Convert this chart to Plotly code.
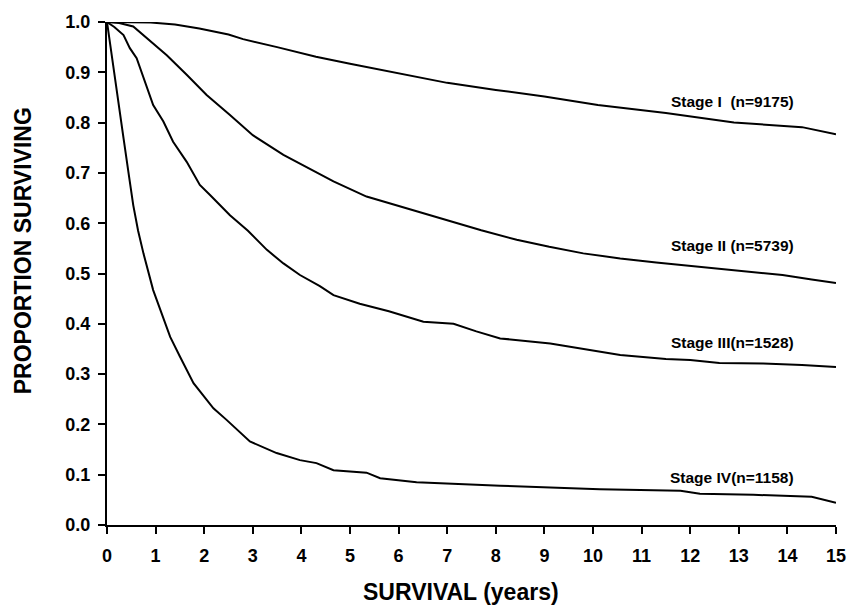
import plotly.graph_objects as go

# Stage I
s1_x = [0, 0.5, 0.9, 1.4, 1.9, 2.5, 2.8, 3.5, 4.3, 5, 6, 7, 8, 9, 10.1, 11.5, 12.9, 14.3, 15]
s1_y = [1.0, 1.0, 0.999, 0.995, 0.987, 0.975, 0.966, 0.950, 0.931, 0.917, 0.898, 0.879, 0.865, 0.852, 0.835, 0.819, 0.80, 0.791, 0.777]

# Stage II
s2_x = [0, 0.25, 0.54, 0.82, 1.23, 1.64, 2.05, 2.53, 3.0, 3.63, 3.97, 4.66, 5.34, 5.69, 6.3, 7.06, 7.7, 8.43, 9.1, 9.8, 10.56, 11.3, 12.2, 13.0, 13.9, 14.5, 15]
s2_y = [1.0, 0.998, 0.991, 0.968, 0.934, 0.895, 0.855, 0.815, 0.775, 0.736, 0.719, 0.683, 0.653, 0.643, 0.625, 0.603, 0.586, 0.567, 0.553, 0.540, 0.530, 0.522, 0.513, 0.505, 0.497, 0.488, 0.481]

# Stage III
s3_x = [0, 0.15, 0.34, 0.47, 0.61, 0.75, 0.95, 1.16, 1.36, 1.64, 1.91, 2.12, 2.53, 2.9, 3.29, 3.63, 3.97, 4.38, 4.66, 5.2, 5.8, 6.51, 7.13, 7.6, 8.09, 9.12, 9.8, 10.56, 11.5, 12.0, 12.6, 13.5, 14.3, 15]
s3_y = [1.0, 0.99, 0.974, 0.948, 0.928, 0.888, 0.835, 0.802, 0.762, 0.722, 0.676, 0.656, 0.616, 0.585, 0.547, 0.52, 0.497, 0.475, 0.457, 0.44, 0.425, 0.404, 0.400, 0.385, 0.371, 0.361, 0.35, 0.338, 0.33, 0.328, 0.322, 0.321, 0.318, 0.314]

# Stage IV
s4_x = [0, 0.13, 0.23, 0.34, 0.44, 0.54, 0.64, 0.75, 0.95, 1.12, 1.30, 1.50, 1.78, 2.19, 2.46, 2.94, 3.49, 3.97, 4.31, 4.66, 5.34, 5.62, 6.37, 8.09, 10.14, 11.8, 12.2, 13.3, 14.5, 15]
s4_y = [1.0, 0.915, 0.842, 0.769, 0.702, 0.636, 0.585, 0.540, 0.467, 0.421, 0.374, 0.335, 0.282, 0.232, 0.209, 0.166, 0.143, 0.129, 0.123, 0.109, 0.104, 0.093, 0.085, 0.078, 0.071, 0.068, 0.062, 0.060, 0.056, 0.044]

labels = ["Stage I  (n=9175)", "Stage II (n=5739)", "Stage III(n=1528)", "Stage IV(n=1158)"]
label_x = [12.86, 12.86, 12.86, 12.86]
label_y = [0.841, 0.555, 0.362, 0.095]

x_ticks = list(range(0, 16))
y_ticks = [0.0, 0.1, 0.2, 0.3, 0.4, 0.5, 0.6, 0.7, 0.8, 0.9, 1.0]
y_tick_text = ["0.0", "0.1", "0.2", "0.3", "0.4", "0.5", "0.6", "0.7", "0.8", "0.9", "1.0"]

x_title = "SURVIVAL (years)"
y_title = "PROPORTION SURVIVING"

FONT = "Arial, Liberation Sans, Helvetica, sans-serif"

fig = go.Figure()
for xs, ys in [(s1_x, s1_y), (s2_x, s2_y), (s3_x, s3_y), (s4_x, s4_y)]:
    fig.add_trace(go.Scatter(x=xs, y=ys, mode="lines",
                             line=dict(color="black", width=2),
                             showlegend=False, hoverinfo="skip"))

for t, lx, ly in zip(labels, label_x, label_y):
    fig.add_annotation(x=lx, y=ly, text="<b>" + t + "</b>", showarrow=False,
                       font=dict(family=FONT, size=15.5, color="black"),
                       xanchor="center", yanchor="middle")

fig.add_annotation(xref="paper", yref="paper", x=0.486, y=-0.133, text="<b>" + x_title + "</b>",
                   showarrow=False, xanchor="center", yanchor="middle",
                   font=dict(family=FONT, size=23, color="black"))
fig.add_annotation(xref="paper", yref="paper", x=-0.116, y=0.545, text="<b>" + y_title + "</b>",
                   showarrow=False, xanchor="center", yanchor="middle", textangle=-90,
                   font=dict(family=FONT, size=23, color="black"))

fig.update_layout(
    width=848, height=605,
    margin=dict(l=107, r=12, t=22, b=80),
    paper_bgcolor="white", plot_bgcolor="white",
    font=dict(family=FONT, color="black"),
)
fig.update_xaxes(range=[0, 15], tickvals=x_ticks, ticktext=[f"<b>{v}</b>" for v in x_ticks],
                 showgrid=False, zeroline=False, showline=True, linecolor="black", linewidth=2,
                 ticks="outside", ticklen=7, tickwidth=2, tickcolor="black", automargin=False,
                 ticklabelstandoff=6,
                 tickfont=dict(family=FONT, size=18, color="black"))
fig.update_yaxes(range=[0, 1.0], tickvals=y_ticks, ticktext=[f"<b>{v}</b>" for v in y_tick_text],
                 showgrid=False, zeroline=False, showline=True, linecolor="black", linewidth=2,
                 ticks="outside", ticklen=7, tickwidth=2, tickcolor="black", automargin=False,
                 ticklabelstandoff=4,
                 tickfont=dict(family=FONT, size=18, color="black"))

fig.write_html("out.html", config={"displayModeBar": False},
               post_script="document.body.style.margin='0';document.body.style.overflow='hidden';")
